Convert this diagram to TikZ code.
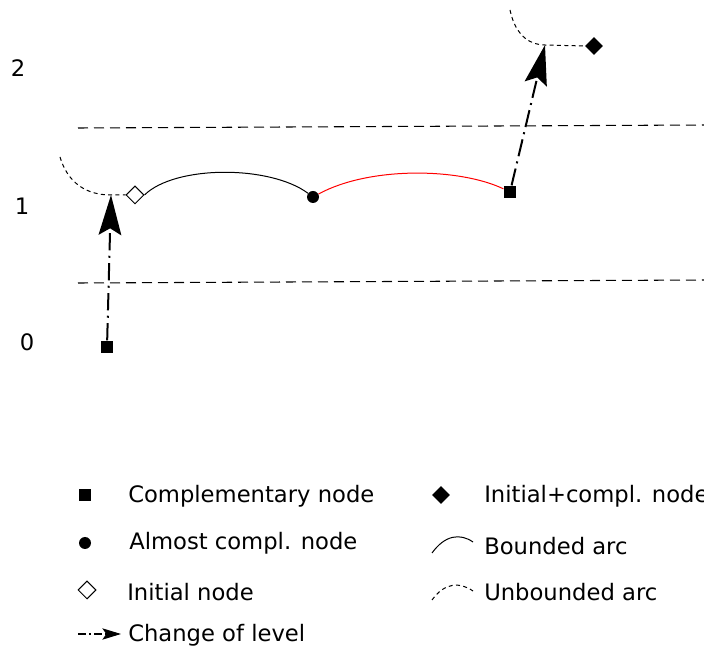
\documentclass[tikz,border=0pt]{standalone}
\usepackage{fontspec}
\setmainfont{DejaVu Sans}
\usetikzlibrary{arrows.meta,shapes.geometric}
\begin{document}
\begin{tikzpicture}[x=0.75pt,y=-0.75pt,
  lvl/.style={dash pattern=on 7.5pt off 4.5pt, line width=0.8pt},
  unb/.style={dash pattern=on 3pt off 2.5pt, line width=0.75pt},
  bnd/.style={line width=0.75pt},
  chg/.style={line width=1.5pt, dash pattern=on 13pt off 4pt on 1.5pt off 4pt, -{Stealth[length=30pt,width=17pt,inset=5pt]}},
  chgs/.style={line width=0.8pt, dash pattern=on 6pt off 2.5pt on 1pt off 2.5pt, -{Stealth[length=14pt,width=8.5pt,inset=3pt]}},
  csq/.style={rectangle, fill=black, minimum size=9.5pt, inner sep=0pt},
  ccirc/.style={circle, fill=black, minimum size=9pt, inner sep=0pt},
  odiam/.style={diamond, draw=black, fill=white, line width=0.75pt, minimum size=13.5pt, inner sep=0pt},
  fdiam/.style={diamond, fill=black, minimum size=13.5pt, inner sep=0pt},
  lbl/.style={font=\fontsize{17}{20}\selectfont, anchor=west, inner sep=0pt},
  num/.style={font=\fontsize{17}{20}\selectfont, inner sep=0pt}]
\useasboundingbox (0,0) rectangle (704,648);
% level labels
\node[num] (l2) at (18,68) {2};
\node[num] (l1) at (22,206) {1};
\node[num] (l0) at (27,342) {0};
% level separators
\coordinate (h1a) at (78,128);
\coordinate (h1b) at (704,125);
\coordinate (h0a) at (78,283);
\coordinate (h0b) at (704,280);
\draw[lvl] (h1a) -- (h1b);
\draw[lvl] (h0a) -- (h0b);
% nodes
\node[csq] (s0) at (107,347) {};
\coordinate (t1) at (111,195);
\node[odiam] (i1) at (135,195) {};
\node[ccirc] (a1) at (313,197) {};
\node[csq] (s1) at (510,192) {};
\coordinate (t2) at (545,45);
\node[fdiam] (f2) at (594,46) {};
\coordinate (u1) at (60,157);
\coordinate (u2) at (510,10);
% arcs
\draw[unb] (u1) .. controls (70,190) and (95,195) .. (t1) -- (i1.west);
\draw[bnd] (i1.east) .. controls (175,165) and (270,165) .. (a1);
\draw[bnd, red] (a1) .. controls (370,166) and (460,168) .. (s1);
\draw[unb] (u2) .. controls (516,38) and (532,45) .. (t2) -- (f2.west);
% changes of level
\draw[chg] (s0) -- (t1);
\draw[chg] (s1) -- (t2);
% legend
\node[csq] (k1) at (85,495) {};
\node[lbl] (k1t) at (128,496) {Complementary node};
\node[ccirc] (k2) at (85,543) {};
\node[lbl] (k2t) at (129,543) {Almost compl. node};
\node[odiam] (k3) at (87,590) {};
\node[lbl] (k3t) at (127,592) {Initial node};
\coordinate (k4a) at (78,634);
\coordinate (k4b) at (121,634);
\draw[chgs] (k4a) -- (k4b);
\node[lbl] (k4t) at (128,635) {Change of level};
\node[fdiam] (k5) at (441,495) {};
\node[lbl] (k5t) at (484,496) {Initial+compl. node};
\coordinate (k6a) at (432,553);
\coordinate (k6b) at (473,542);
\draw[bnd] (k6a) .. controls (445,535) and (460,533) .. (k6b);
\node[lbl] (k6t) at (484,546) {Bounded arc};
\coordinate (k7a) at (432,600);
\coordinate (k7b) at (473,591);
\draw[unb] (k7a) .. controls (445,582) and (460,582) .. (k7b);
\node[lbl] (k7t) at (484,592) {Unbounded arc};
\end{tikzpicture}
\end{document}
